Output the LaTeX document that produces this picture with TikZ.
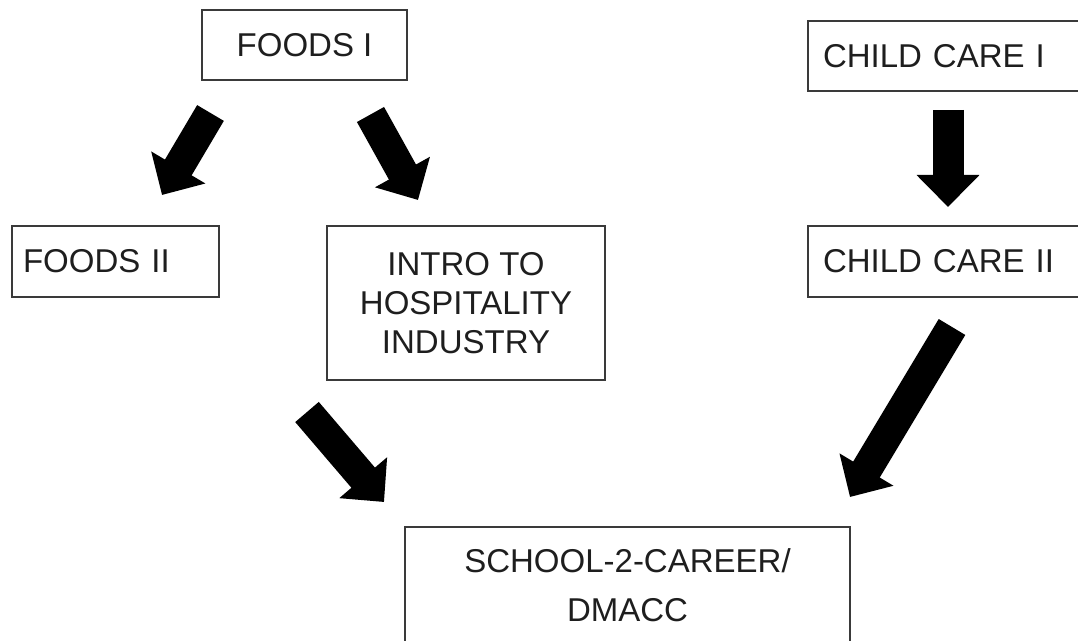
\documentclass[tikz,border=0pt]{standalone}
\usepackage{fontspec}
\setmainfont{Liberation Sans}
\usepackage{tikz}
\usepackage{xcolor}
\usetikzlibrary{arrows.meta}

\definecolor{boxline}{HTML}{3A3A3A}
\definecolor{boxtext}{HTML}{1E1E1E}

\begin{document}
\begin{tikzpicture}[x=0.75pt,y=-0.75pt,
  course/.style={draw=boxline,line width=1.5pt,text=boxtext,inner sep=0pt,
    font=\fontsize{24.75pt}{29.25pt}\selectfont},
  leftcourse/.style={course,align=left,inner xsep=11.25pt,text width=192.75pt},
  bigarrow/.style={line width=23.25pt,-{Triangle[width=45.75pt,length=24pt]}}]
\useasboundingbox (0,0) rectangle (1078,641);

% course boxes
\node[course,minimum width=153.75pt,minimum height=52.5pt] (foodsone) at (304.5,45) {FOODS I};
\node[course,align=left,inner xsep=8.25pt,text width=138.75pt,minimum height=53.25pt] (foodstwo) at (115.5,261.5) {FOODS II};
\node[course,align=center,minimum width=208.5pt,minimum height=115.5pt] (intro) at (466,303) {INTRO TO\\HOSPITALITY\\INDUSTRY};
\node[leftcourse,minimum height=52.5pt] (childone) at (951.5,56) {CHILD CARE I};
\node[leftcourse,minimum height=53.25pt] (childtwo) at (951.5,261.5) {CHILD CARE II};
\node[course,align=center,anchor=north,inner ysep=16.5pt,minimum width=333.75pt] (school) at (627.5,526) {SCHOOL-2-CAREER/\\[7.5pt]DMACC\rule[-60pt]{0pt}{1pt}};

% arrow ends
\coordinate (f1a) at (210.5,113);
\coordinate (f1b) at (162,195);
\coordinate (f2a) at (370.5,114.5);
\coordinate (f2b) at (418,200);
\coordinate (c1a) at (948,110);
\coordinate (c1b) at (948,207);
\coordinate (c2a) at (952,327);
\coordinate (c2b) at (850,497);
\coordinate (h1a) at (307,412);
\coordinate (h1b) at (384,502);

\draw[bigarrow] (f1a) -- (f1b);
\draw[bigarrow] (f2a) -- (f2b);
\draw[bigarrow] (c1a) -- (c1b);
\draw[bigarrow] (c2a) -- (c2b);
\draw[bigarrow] (h1a) -- (h1b);

\end{tikzpicture}
\end{document}
